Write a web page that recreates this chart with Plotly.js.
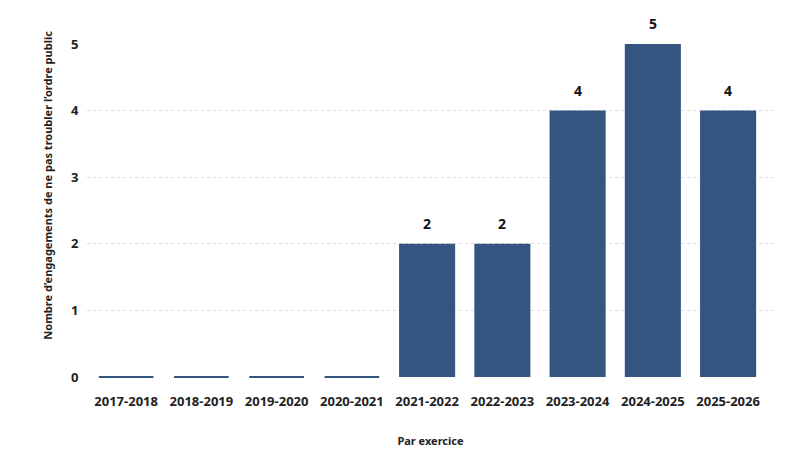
<!DOCTYPE html>
<html><head><meta charset="utf-8">
<script src="https://cdn.plot.ly/plotly-3.0.1.min.js"></script>
<style>html,body{margin:0;padding:0;background:#fff}#chart{width:796px;height:463px}</style>
</head><body><div id="chart"></div>
<script>
const categories = ["2017-2018","2018-2019","2019-2020","2020-2021","2021-2022","2022-2023","2023-2024","2024-2025","2025-2026"];
const values = [0,0,0,0,2,2,4,5,4];
const barColor = "#34557f";
const font = "'Noto Sans', 'Open Sans', sans-serif";

const zeroX = categories.filter((c,i)=>values[i]===0);
const zeroY = values.filter(v=>v===0);

const traces = [
  {
    type: "bar", x: categories, y: values,
    marker: {color: barColor},
    hoverinfo: "x+y"
  },
  {
    type: "scatter", mode: "markers", x: zeroX, y: zeroY,
    marker: {symbol: "line-ew-open", size: 39, color: barColor, line: {width: 2, color: barColor}},
    cliponaxis: false, hoverinfo: "skip", showlegend: false
  }
];

const labelAnnotations = categories.map((c,i)=>({
  x: c, y: values[i], xref: "x", yref: "y",
  text: values[i] === 0 ? "" : String(values[i]),
  showarrow: false, yanchor: "bottom", yshift: 9,
  font: {family: font, size: 14, color: "#111", weight: "bold"}
})).filter(a => a.text !== "");

const layout = {
  width: 796, height: 463,
  margin: {l: 87, r: 22, t: 44, b: 86},
  paper_bgcolor: "#fff", plot_bgcolor: "#fff",
  showlegend: false, bargap: 0.255,
  font: {family: font, color: "#222"},
  xaxis: {
    type: "category", range: [-0.52, 8.61],
    showgrid: false, zeroline: false, showline: false,
    tickfont: {family: font, size: 13, color: "#222", weight: "bold"},
    ticks: "outside", ticklen: 12, tickcolor: "rgba(0,0,0,0)",
    title: {text: "Par exercice", font: {family: font, size: 11, color: "#222", weight: "bold"}, standoff: 28}
  },
  yaxis: {
    range: [0, 5], dtick: 1, tick0: 0,
    showgrid: true, gridcolor: "#dcdcdc", griddash: "dot", gridwidth: 1,
    zeroline: false, showline: false,
    tickfont: {family: font, size: 13, color: "#222", weight: "bold"},
    ticks: "outside", ticklen: 5, tickcolor: "rgba(0,0,0,0)"
  },
  annotations: labelAnnotations.concat([{
    text: "Nombre d’engagements de ne pas troubler l’ordre public",
    textangle: -90, xref: "paper", yref: "paper",
    x: -0.058, xanchor: "center", y: 0.575, yanchor: "middle",
    showarrow: false,
    font: {family: font, size: 11, color: "#222", weight: "bold"}
  }])
};

Plotly.newPlot("chart", traces, layout, {displayModeBar: false, staticPlot: true});
</script>
</body></html>
